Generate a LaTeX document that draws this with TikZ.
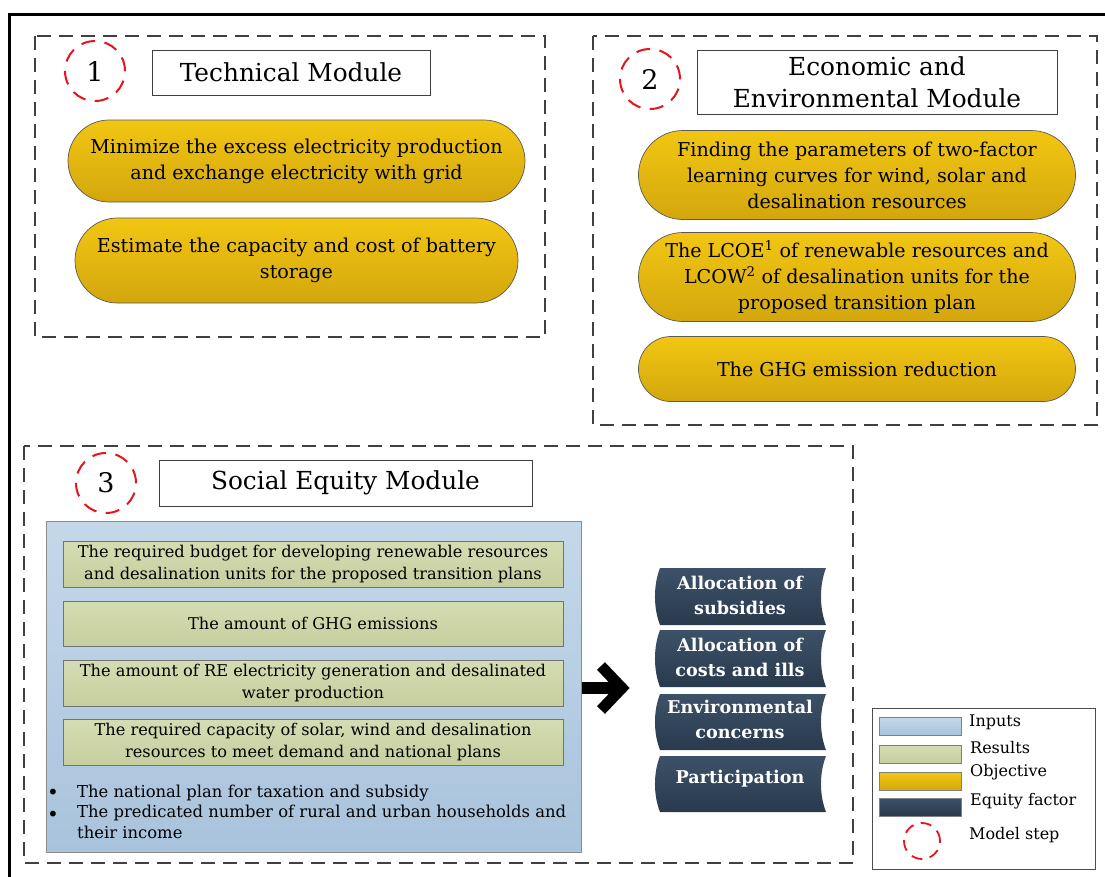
\documentclass[tikz,border=0pt]{standalone}
\usepackage{fontspec}
\setmainfont{DejaVu Serif}
\usetikzlibrary{calc}
\definecolor{goldT}{HTML}{F2C612}
\definecolor{goldB}{HTML}{D3A70D}
\definecolor{blueT}{HTML}{C5D8EA}
\definecolor{blueB}{HTML}{A8C3DC}
\definecolor{greenT}{HTML}{D4DCB2}
\definecolor{greenB}{HTML}{C7CF9F}
\definecolor{eqT}{HTML}{3C5168}
\definecolor{eqB}{HTML}{2A3A4D}
\definecolor{dashgray}{HTML}{404040}
\definecolor{circred}{HTML}{E8141C}
\tikzset{
  modbox/.style={draw=dashgray, line width=2.2pt, dash pattern=on 14pt off 8pt},
  stepcirc/.style={circle, draw=circred, line width=2pt, dash pattern=on 14pt off 9.5pt, minimum size=60pt, inner sep=0pt, font=\fontsize{27}{30}\selectfont},
  titlebox/.style={draw=black!75, line width=0.8pt, fill=white, inner sep=2pt, align=center, font=\fontsize{24.8}{32}\selectfont},
  pill/.style={draw=black!65, line width=0.7pt, top color=goldT, bottom color=goldB, inner sep=2pt, align=center, font=\fontsize{19.1}{26}\selectfont},
  resbox/.style={draw=black!55, line width=0.8pt, top color=greenT, bottom color=greenB, minimum width=500pt, inner sep=1pt, align=center, font=\fontsize{16.2}{21.5}\selectfont},
  eqtext/.style={text=white, align=center, inner sep=0pt, font=\bfseries\fontsize{17.6}{25}\selectfont},
  eqshape/.style={top color=eqT, bottom color=eqB, draw=none},
  bultext/.style={inner sep=0pt, align=left, font=\fontsize{16.4}{21}\selectfont},
  legtext/.style={inner sep=0pt, anchor=west, font=\fontsize{16}{18}\selectfont},
  swatch/.style={draw=black!50, line width=0.8pt, minimum width=82pt, minimum height=18pt, inner sep=0pt},
}
\begin{document}
\begin{tikzpicture}[x=1pt,y=-1pt]
\useasboundingbox (0,0) rectangle (1105,876);
\fill[white] (0,0) rectangle (1105,876);
% outer frame
\draw[line width=3pt] (9.5,14.5) rectangle (1120,890);

% ---------- Module 1 ----------
\draw[modbox] (35,36) rectangle (545,337);
\node[stepcirc] (c1) at (95,71) {1};
\node[titlebox, minimum width=278pt, minimum height=45pt] (t1) at (291,72.5) {Technical Module};
\node[pill, minimum width=457pt, minimum height=82pt, rounded corners=41pt] (p11) at (296.5,161)
  {Minimize the excess electricity production\\and exchange electricity with grid};
\node[pill, minimum width=443pt, minimum height=85pt, rounded corners=42.5pt] (p12) at (296.5,260.5)
  {Estimate the capacity and cost of battery\\storage};

% ---------- Module 2 ----------
\draw[modbox] (593,36) rectangle (1097,425);
\node[stepcirc] (c2) at (650,79) {2};
\node[titlebox, minimum width=360pt, minimum height=64pt, font=\fontsize{24.8}{32}\selectfont] (t2) at (877,82) {Economic and\\Environmental Module};
\node[pill, minimum width=437pt, minimum height=89pt, rounded corners=44.5pt] (p21) at (857,175)
  {Finding the parameters of two-factor\\learning curves for wind, solar and\\desalination resources};
\node[pill, minimum width=437pt, minimum height=89pt, rounded corners=44.5pt] (p22) at (857,277)
  {The LCOE\textsuperscript{1} of renewable resources and\\LCOW\textsuperscript{2} of desalination units for the\\proposed transition plan};
\node[pill, minimum width=437pt, minimum height=65pt, rounded corners=32.5pt] (p23) at (857,369)
  {The GHG emission reduction};

% ---------- Module 3 ----------
\draw[modbox] (24,446) rectangle (853,863);
\node[stepcirc] (c3) at (106,483) {3};
\node[titlebox, minimum width=373pt, minimum height=46pt] (t3) at (345.5,483) {Social Equity Module};
\node[draw=black!45, line width=0.8pt, top color=blueT, bottom color=blueB, minimum width=535pt, minimum height=331pt, inner sep=0pt] (inp) at (313.5,686.5) {};
\node[resbox, minimum height=46pt] (r1) at (313,564)
  {The required budget for developing renewable resources\\and desalination units for the proposed transition plans};
\node[resbox, minimum height=45pt] (r2) at (313,623.5) {The amount of GHG emissions};
\node[resbox, minimum height=46pt] (r3) at (313,683)
  {The amount of RE electricity generation and desalinated\\water production};
\node[resbox, minimum height=46pt] (r4) at (313,742)
  {The required capacity of solar, wind and desalination\\resources to meet demand and national plans};
\node[inner sep=0pt, font=\fontsize{20}{20}\selectfont] (b1) at (53,794) {•};
\node[inner sep=0pt, font=\fontsize{20}{20}\selectfont] (b2) at (53,816) {•};
\node[bultext, anchor=west] (bt1) at (77,793) {The national plan for taxation and subsidy};
\node[bultext, anchor=north west] (bt2) at (77,805) {The predicated number of rural and urban households and\\their income};

% arrow
\coordinate (ar0) at ($(inp.east |- 0,688)+(1,0)$);
\coordinate (ar1) at (622,688);
\draw[line width=12pt] (ar0) -- (ar1);
\draw[line width=11pt, miter limit=10] ($(ar1)+(-21,-22)$) -- (ar1) -- ($(ar1)+(-21,22)$);

% equity factors
\foreach \i/\ya/\yb in {1/568/625, 2/630/687, 3/694/750, 4/756/812}{
  \shade[eqshape] (660,\ya) -- (826,\ya)
     .. controls (819.3,{\ya+0.3*(\yb-\ya)}) and (819.3,{\ya+0.7*(\yb-\ya)}) .. (826,\yb)
     -- (660,\yb)
     .. controls (653.3,{\ya+0.7*(\yb-\ya)}) and (653.3,{\ya+0.3*(\yb-\ya)}) .. (660,\ya) -- cycle;
}
\node[eqtext] (e1) at (740,595.5) {Allocation of\\subsidies};
\node[eqtext] (e2) at (740,657) {Allocation of\\costs and ills};
\node[eqtext] (e3) at (740,719) {Environmental\\concerns};
\node[eqtext] (e4) at (740,779) {Participation};

% legend
\node[draw=black!70, line width=0.8pt, minimum width=223pt, minimum height=161pt, inner sep=0pt] (leg) at (983.5,788.5) {};
\node[swatch, top color=blueT, bottom color=blueB] (s1) at (920,726) {};
\node[swatch, top color=greenT, bottom color=greenB] (s2) at (920,754) {};
\node[swatch, top color=goldT, bottom color=goldB] (s3) at (920,781.5) {};
\node[swatch, top color=eqT, bottom color=eqB] (s4) at (920,807) {};
\node[circle, draw=circred, line width=1.8pt, dash pattern=on 11pt off 7.5pt, minimum size=36pt, inner sep=0pt] (s5) at (922,841) {};
\node[legtext] (l1) at (969,722) {Inputs};
\node[legtext] (l2) at (970,748) {Results};
\node[legtext] (l3) at (970,772.5) {Objective};
\node[legtext] (l4) at (970,801) {Equity factor};
\node[legtext] (l5) at (969,835) {Model step};
\end{tikzpicture}
\end{document}
